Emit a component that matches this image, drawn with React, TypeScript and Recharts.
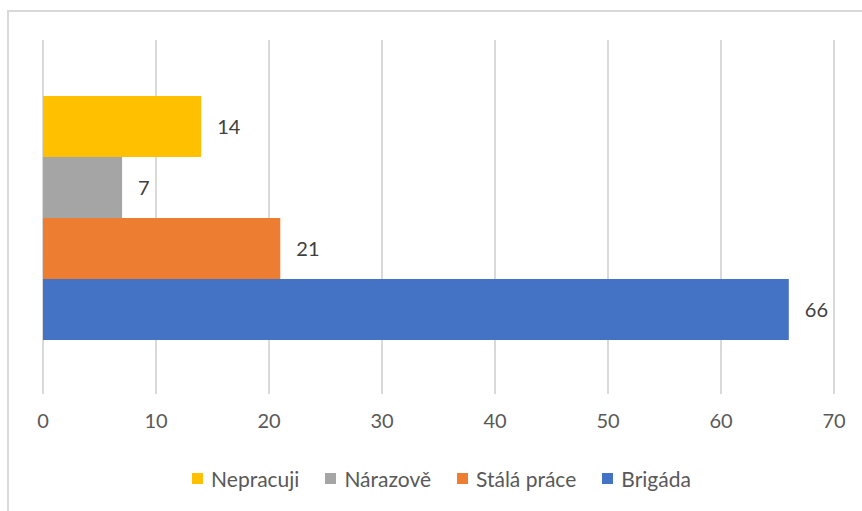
import { BarChart, Bar, XAxis, YAxis, CartesianGrid, Legend, LabelList } from "recharts"

const categories = [""]
const seriesNames = ["Nepracuji", "Nárazově", "Stálá práce", "Brigáda"]
const seriesValues = [14, 7, 21, 66]
const seriesColors = ["#FFC000", "#A5A5A5", "#ED7D31", "#4472C4"]
const xTicks = [0, 10, 20, 30, 40, 50, 60, 70]

const data = categories.map((c) => {
  const row: Record<string, string | number> = { name: c }
  seriesNames.forEach((s, i) => {
    row[s] = seriesValues[i]
  })
  return row
})

const font = "Lato, 'Noto Sans', sans-serif"

function LegendContent({ payload }: any) {
  const items = [...(payload || [])].sort(
    (a: any, b: any) => seriesNames.indexOf(a.value) - seriesNames.indexOf(b.value)
  )
  return (
    <div style={{ display: "flex", justifyContent: "center", gap: 26, fontFamily: font, fontSize: 21, color: "#595959", paddingLeft: 6 }}>
      {items.map((p: any) => (
        <div key={p.value} style={{ display: "flex", alignItems: "center" }}>
          <span style={{ width: 11, height: 11, background: p.color, display: "inline-block", marginRight: 8 }} />
          <span>{p.value}</span>
        </div>
      ))}
    </div>
  )
}

export default function App() {
  return (
    <div style={{ position: "fixed", left: 0, top: 0, width: 862, height: 511, overflow: "hidden", background: "#fff" }}>
      <div style={{ position: "absolute", left: 7, top: 10, width: 900, height: 560, border: "2px solid #d9d9d9", boxSizing: "border-box" }} />
      <div style={{ position: "absolute", left: 0, top: 0 }}>
        <BarChart
          width={862}
          height={511}
          data={data}
          layout="vertical"
          margin={{ top: 40, right: 28, left: 43, bottom: 20 }}
          barCategoryGap={56}
          barGap={0}
        >
          <CartesianGrid horizontal={false} stroke="#d9d9d9" strokeWidth={2} />
          <XAxis
            type="number"
            domain={[0, 70]}
            ticks={xTicks}
            axisLine={false}
            tickLine={false}
            height={72}
            tickMargin={14}
            tick={{ fontSize: 20, fill: "#595959", fontFamily: font }}
            interval={0}
          />
          <YAxis type="category" dataKey="name" hide />
          <Legend verticalAlign="bottom" content={<LegendContent />} />
          {seriesNames.map((s, i) => (
            <Bar key={s} dataKey={s} fill={seriesColors[i]} isAnimationActive={false}>
              <LabelList dataKey={s} position="right" offset={16} fill="#404040" fontSize={20} fontFamily={font} />
            </Bar>
          ))}
        </BarChart>
      </div>
    </div>
  )
}
